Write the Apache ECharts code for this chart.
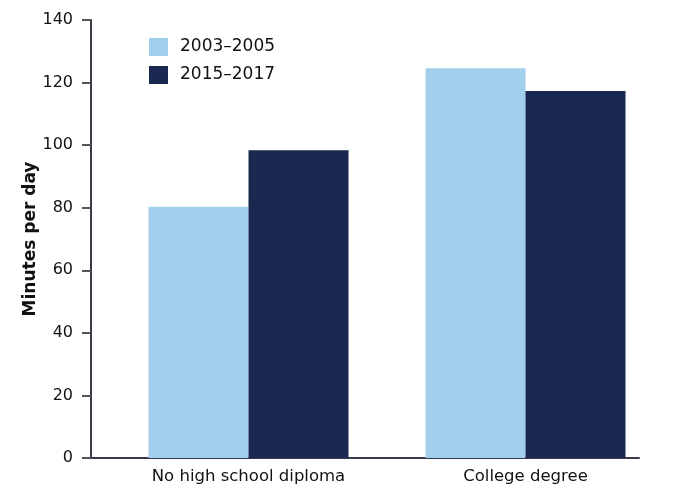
<!DOCTYPE html>
<html>
<head>
<meta charset="utf-8">
<script src="https://cdn.jsdelivr.net/npm/echarts@6/dist/echarts.min.js"></script>
<style>
  html, body { margin: 0; padding: 0; background: #fff; }
  #chart { width: 680px; height: 500px; }
</style>
</head>
<body>
<div id="chart"></div>
<script type="text/javascript">
// data
var categories = ['No high school diploma', 'College degree'];
var seriesNames = ['2003\u20132005', '2015\u20132017'];
var values2003 = [80.3, 124.6];
var values2015 = [98.4, 117.3];
var yTicks = { min: 0, max: 140, interval: 20 };

var myChart = echarts.init(document.getElementById('chart'));

var font = '"DejaVu Sans", sans-serif';

var option = {
  animation: false,
  textStyle: { fontFamily: font },
  legend: {
    orient: 'vertical',
    left: 149,
    top: 38,
    padding: 0,
    itemWidth: 19,
    itemHeight: 18,
    itemGap: 10,
    icon: 'rect',
    textStyle: { fontSize: 17, color: '#111', fontFamily: font, padding: [0, 0, 0, 7] },
    data: seriesNames
  },
  grid: [
    // bars grid (shifted so bars sit where the reference puts them)
    { left: 110, right: 16, top: 20, bottom: 42 },
    // grid only used for the long x axis line
    { left: 91, right: 41, top: 20, bottom: 42 }
  ],
  xAxis: [
    {
      type: 'category',
      gridIndex: 0,
      data: categories,
      axisLine: { show: false },
      axisTick: { show: false },
      axisLabel: { fontSize: 16.5, color: '#111', margin: 10 }
    },
    {
      type: 'category',
      gridIndex: 1,
      data: [''],
      axisLine: { show: true, lineStyle: { color: '#3a3b48', width: 2 } },
      axisTick: { show: false },
      axisLabel: { show: false }
    }
  ],
  yAxis: [
    {
      type: 'value',
      gridIndex: 0,
      min: yTicks.min,
      max: yTicks.max,
      interval: yTicks.interval,
      offset: 19,
      name: 'Minutes per day',
      nameLocation: 'middle',
      nameGap: 52,
      nameMoveOverlap: false,
      nameTextStyle: { fontSize: 17, fontWeight: 'bold', color: '#111' },
      axisLine: { show: true, lineStyle: { color: '#3a3b48', width: 2 } },
      axisTick: { show: true, length: 9, lineStyle: { color: '#555', width: 2 } },
      axisLabel: { fontSize: 16, color: '#111', margin: 18 },
      splitLine: { show: false }
    },
    {
      type: 'value',
      gridIndex: 1,
      show: false
    }
  ],
  series: [
    {
      name: seriesNames[0],
      type: 'bar',
      xAxisIndex: 0,
      yAxisIndex: 0,
      data: values2003,
      barWidth: 100,
      barGap: '0%',
      itemStyle: { color: '#a2cfec' }
    },
    {
      name: seriesNames[1],
      type: 'bar',
      xAxisIndex: 0,
      yAxisIndex: 0,
      data: values2015,
      barWidth: 100,
      barGap: '0%',
      itemStyle: { color: '#1a2850' }
    }
  ]
};

myChart.setOption(option);
</script>
</body>
</html>
